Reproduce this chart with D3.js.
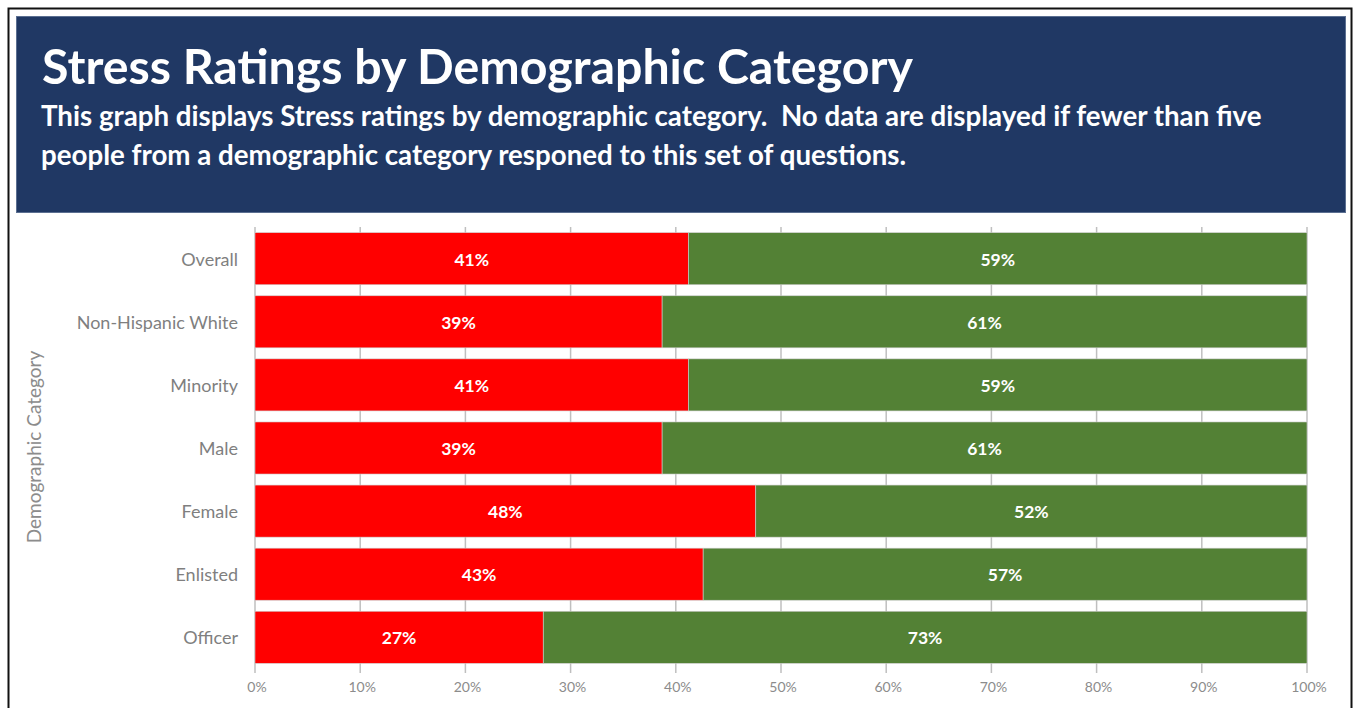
<!DOCTYPE html>
<html lang="en">
<head>
    <meta charset="UTF-8">
    <title>Stress Ratings by Demographic Category</title>
    <style>
        body { margin: 0; background: #ffffff; }
        svg { display: block; font-family: Lato, "Open Sans", sans-serif; }
    </style>
    <script src="https://d3js.org/d3.v7.min.js"></script>
</head>
<body>
    <script>
    // chart values
    const categories = ["Overall", "Non-Hispanic White", "Minority", "Male", "Female", "Enlisted", "Officer"];
    const stressed = [41.2, 38.7, 41.2, 38.7, 47.6, 42.6, 27.4];
    const notStressed = [58.8, 61.3, 58.8, 61.3, 52.4, 57.4, 72.6];
    const xTicks = [0, 10, 20, 30, 40, 50, 60, 70, 80, 90, 100];
    const seriesColors = ["#ff0000", "#538135"];

    const titleText = "Stress Ratings by Demographic Category";
    const subtitleLines = [
        "This graph displays Stress ratings by demographic category.  No data are displayed if fewer than five",
        "people from a demographic category responed to this set of questions."
    ];

    var W = 1354, H = 708;
    var svg = d3.select("body").append("svg")
        .attr("width", W)
        .attr("height", H);

    // outer frame
    svg.append("rect")
        .attr("x", 8.5).attr("y", 8.5)
        .attr("width", 1343).attr("height", 710)
        .attr("fill", "white")
        .attr("stroke", "#111").attr("stroke-width", 2);

    // header box
    svg.append("rect")
        .attr("x", 16.5).attr("y", 16.5)
        .attr("width", 1329).attr("height", 196)
        .attr("fill", "#203864")
        .attr("stroke", "#5b6f91").attr("stroke-width", 1);

    // fit a text to a given width by changing its font size
    function fitText(sel, width) {
        var w = sel.node().getComputedTextLength();
        var fs = parseFloat(sel.attr("font-size"));
        sel.attr("font-size", fs * width / w);
    }

    var title = svg.append("text")
        .attr("x", 42).attr("y", 84)
        .attr("fill", "white")
        .attr("font-weight", "bold")
        .attr("font-size", 44)
        .text(titleText);
    fitText(title, 871);

    var subSize = 22;
    subtitleLines.forEach(function (line, i) {
        var t = svg.append("text")
            .attr("x", 41).attr("y", 126 + i * 39)
            .attr("fill", "white")
            .attr("font-weight", "bold")
            .attr("font-size", subSize)
            .style("white-space", "pre")
            .text(line);
        if (i == 0) {
            fitText(t, 1221);
            subSize = t.attr("font-size");
        }
    });

    // plot area
    var plotLeft = 255, plotRight = 1307, plotTop = 227, plotBottom = 669;

    var x = d3.scaleLinear().domain([0, 100]).range([plotLeft, plotRight]);
    var y = d3.scaleBand().domain(categories).range([plotTop, plotBottom]).paddingInner(0.175).paddingOuter(0.09);

    // gridlines + tick marks (drawn behind bars)
    svg.append("g")
        .selectAll("line")
        .data(xTicks)
        .enter()
        .append("line")
        .attr("x1", d => x(d)).attr("x2", d => x(d))
        .attr("y1", plotTop).attr("y2", plotBottom + 4)
        .attr("stroke", "#bfbfbf")
        .attr("stroke-width", 1.5);

    svg.append("g")
        .selectAll("text")
        .data(xTicks)
        .enter()
        .append("text")
        .attr("x", d => x(d) + 2)
        .attr("y", 692)
        .attr("text-anchor", "middle")
        .attr("font-size", 14)
        .attr("fill", "#8c8c8c")
        .text(d => d + "%");

    // stacked bars
    var rows = categories.map(function (c, i) {
        return { cat: c, parts: [stressed[i], notStressed[i]] };
    });

    var rowG = svg.append("g")
        .selectAll("g")
        .data(rows)
        .enter()
        .append("g");

    rowG.each(function (d) {
        var g = d3.select(this);
        var start = 0;
        d.parts.forEach(function (v, k) {
            g.append("rect")
                .attr("x", x(start))
                .attr("y", y(d.cat))
                .attr("width", x(start + v) - x(start))
                .attr("height", y.bandwidth())
                .attr("fill", seriesColors[k])
                .attr("stroke", "#d0d0d0")
                .attr("stroke-width", 0.6);
            g.append("text")
                .attr("x", x(start + v / 2))
                .attr("y", y(d.cat) + y.bandwidth() / 2 + 7)
                .attr("text-anchor", "middle")
                .attr("fill", "white")
                .attr("font-weight", "bold")
                .attr("font-size", 17.5)
                .text(Math.round(v) + "%");
            start += v;
        });
    });

    // category labels
    svg.append("g")
        .selectAll("text")
        .data(categories)
        .enter()
        .append("text")
        .attr("x", 238)
        .attr("y", d => y(d) + y.bandwidth() / 2 + 7)
        .attr("text-anchor", "end")
        .attr("font-size", 18)
        .attr("fill", "#7f7f7f")
        .text(d => d);

    // axis title
    svg.append("text")
        .attr("transform", "translate(41, 447) rotate(-90)")
        .attr("text-anchor", "middle")
        .attr("font-size", 19)
        .attr("fill", "#8c8c8c")
        .text("Demographic Category");
    </script>
</body>
</html>
